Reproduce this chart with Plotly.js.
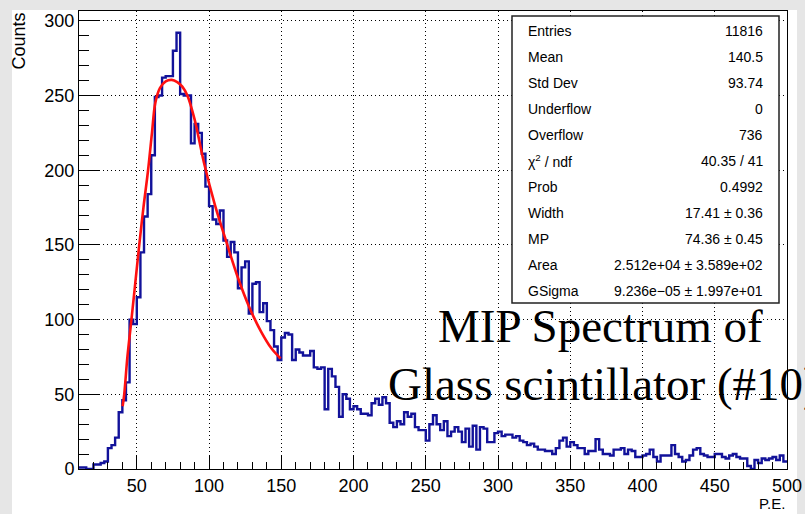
<!DOCTYPE html>
<html>
<head>
<meta charset="utf-8">
<script src="https://cdn.plot.ly/plotly-3.0.1.min.js"></script>
<style>
  html, body { margin: 0; padding: 0; background: #ffffff; }
  #plot { width: 805px; height: 514px; }
</style>
</head>
<body>
<div id="plot"></div>
<script>
// Histogram binning: 2.5 P.E. wide bins starting at 10 P.E.
const binLow = 10;
const binWidth = 2.5;

// Counts per bin (196 bins, 10 to 500 P.E.)
const counts = [
  1, 1, 0, 0, 3, 3, 4, 5, 14, 16, 21, 38, 46, 58, 100, 97, 115, 145, 169, 184,
  210, 249, 250, 262, 263, 263, 280, 292, 251, 250, 250, 218, 231, 225, 211, 189, 176, 167, 164, 173,
  153, 142, 152, 145, 121, 135, 139, 104, 124, 125, 105, 111, 99, 93, 82, 73, 88, 91, 90, 73,
  80, 78, 76, 76, 79, 68, 67, 68, 40, 67, 62, 55, 35, 50, 47, 40, 42, 40, 37, 37,
  36, 44, 47, 43, 48, 44, 31, 28, 32, 30, 38, 35, 37, 28, 26, 26, 19, 30, 36, 30,
  26, 32, 22, 25, 28, 25, 18, 27, 15, 29, 13, 28, 27, 18, 18, 24, 25, 22, 23, 23,
  21, 22, 19, 18, 16, 17, 15, 13, 13, 12, 12, 10, 14, 19, 21, 15, 18, 16, 14, 14,
  10, 12, 12, 20, 13, 10, 10, 9, 13, 13, 14, 10, 13, 12, 8, 8, 9, 10, 13, 8,
  5, 9, 9, 9, 16, 10, 8, 5, 6, 9, 13, 14, 10, 9, 8, 8, 10, 10, 8, 7,
  9, 10, 8, 7, 7, 2, 0, 6, 4, 7, 6, 7, 8, 6, 9, 5
];

// Landau fit curve over the fit range
const fitX = [40.2, 41.3, 43.5, 46.3, 49.0, 51.7, 54.6, 57.8, 60.5, 62.8, 66, 70, 74.2, 78, 81.5, 85, 90, 96.5, 104, 112, 120, 128, 136, 143, 149.5];
const fitY = [42, 50, 75, 100, 125, 150, 175, 200, 225, 245, 255, 259.5, 260.5, 259, 256, 250, 234, 205, 177, 152, 128, 108, 92, 81, 74];

// Statistics box contents
const statNames = ['Entries', 'Mean', 'Std Dev', 'Underflow', 'Overflow', '\u03c7<sup>2</sup> / ndf', 'Prob', 'Width', 'MP', 'Area', 'GSigma'];
const statValues = ['11816', '140.5', '93.74', '0', '736', '40.35 / 41', '0.4992', '17.41 \u00b1 0.36', '74.36 \u00b1 0.45', '2.512e+04 \u00b1 3.589e+02', '9.236e\u221205 \u00b1 1.997e+01'];

const titleLines = ['MIP Spectrum of', 'Glass scintillator (#10)'];

// Step outline of the histogram
const stepX = counts.map((_, i) => binLow + i * binWidth);
stepX.push(binLow + counts.length * binWidth);
const stepY = counts.concat([counts[counts.length - 1]]);

// Frame geometry in pixels
const W = 805, H = 514;
const M = { l: 79, r: 18, t: 11, b: 45 };
const PW = W - M.l - M.r, PH = H - M.t - M.b;
const px = x => (x - M.l) / PW;
const py = y => (H - M.b - y) / PH;

const sans = 'Liberation Sans, Arial, Helvetica, sans-serif';
const serif = 'Liberation Serif, Times New Roman, serif';

const traces = [
  {
    x: stepX, y: stepY, type: 'scatter', mode: 'lines',
    line: { shape: 'hv', color: '#12129a', width: 2.4 },
    hoverinfo: 'skip'
  },
  {
    x: fitX, y: fitY, type: 'scatter', mode: 'lines',
    line: { shape: 'spline', smoothing: 1, color: '#ff1010', width: 2.6 },
    hoverinfo: 'skip'
  }
];

const annotations = [];
statNames.forEach((name, i) => {
  const yc = py(30.7 + 26 * i);
  annotations.push({
    xref: 'paper', yref: 'paper', x: px(526), y: yc, xanchor: 'left', yanchor: 'middle',
    text: name, showarrow: false, font: { family: sans, size: 14, color: '#000' }
  });
  annotations.push({
    xref: 'paper', yref: 'paper', x: px(765), y: yc, xanchor: 'right', yanchor: 'middle',
    text: statValues[i], showarrow: false, font: { family: sans, size: 14, color: '#000' }
  });
});

annotations.push({
  xref: 'paper', yref: 'paper', x: px(436), y: py(326), xanchor: 'left', yanchor: 'middle',
  text: titleLines[0], showarrow: false, font: { family: serif, size: 47, color: '#000' }
});
annotations.push({
  xref: 'paper', yref: 'paper', x: px(386), y: py(384), xanchor: 'left', yanchor: 'middle',
  text: titleLines[1], showarrow: false, font: { family: serif, size: 47, color: '#000' }
});

// Axis titles
annotations.push({
  xref: 'paper', yref: 'paper', x: px(18.5), y: py(41), xanchor: 'center', yanchor: 'middle',
  text: 'Counts', textangle: -90, showarrow: false, font: { family: sans, size: 18, color: '#000' }
});
annotations.push({
  xref: 'paper', yref: 'paper', x: px(787), y: py(503), xanchor: 'right', yanchor: 'middle',
  text: 'P.E.', showarrow: false, font: { family: sans, size: 15, color: '#000' }
});

const shapes = [
  // canvas border strips
  { type: 'rect', xref: 'paper', yref: 'paper', x0: px(0), x1: px(12), y0: py(H), y1: py(0),
    fillcolor: '#e6e6e6', line: { width: 0 }, layer: 'below' },
  { type: 'rect', xref: 'paper', yref: 'paper', x0: px(0), x1: px(W), y0: py(10), y1: py(0),
    fillcolor: '#e6e6e6', line: { width: 0 }, layer: 'below' },
  { type: 'rect', xref: 'paper', yref: 'paper', x0: px(797), x1: px(W), y0: py(H), y1: py(0),
    fillcolor: '#e6e6e6', line: { width: 0 }, layer: 'below' },
  // statistics box
  { type: 'rect', xref: 'paper', yref: 'paper', x0: px(512), x1: px(779), y0: py(303), y1: py(16),
    fillcolor: '#ffffff', line: { color: '#222', width: 1.5 }, layer: 'above' }
];

const axisCommon = {
  showline: true, linecolor: '#000', linewidth: 1, mirror: true,
  ticks: 'inside', tickcolor: '#000', tickwidth: 1,
  showgrid: true, gridcolor: '#000', gridwidth: 1, griddash: '1px,3px',
  zeroline: false, tickfont: { family: sans, size: 18, color: '#000' },
  fixedrange: true
};

const layout = {
  width: W, height: H,
  margin: { l: M.l, r: M.r, t: M.t, b: M.b, pad: 0 },
  paper_bgcolor: '#ffffff', plot_bgcolor: '#ffffff',
  showlegend: false,
  xaxis: Object.assign({}, axisCommon, {
    range: [binLow, 500], tick0: 0, dtick: 50, ticklen: 14,
    minor: { tick0: 0, dtick: 10, ticks: 'inside', ticklen: 7, tickcolor: '#000', showgrid: false }
  }),
  yaxis: Object.assign({}, axisCommon, {
    range: [0, 306.6], tick0: 0, dtick: 50, ticklen: 20,
    minor: { tick0: 0, dtick: 10, ticks: 'inside', ticklen: 10, tickcolor: '#000', showgrid: false }
  }),
  annotations: annotations,
  shapes: shapes
};

Plotly.newPlot('plot', traces, layout, { displayModeBar: false, staticPlot: true });
</script>
</body>
</html>
